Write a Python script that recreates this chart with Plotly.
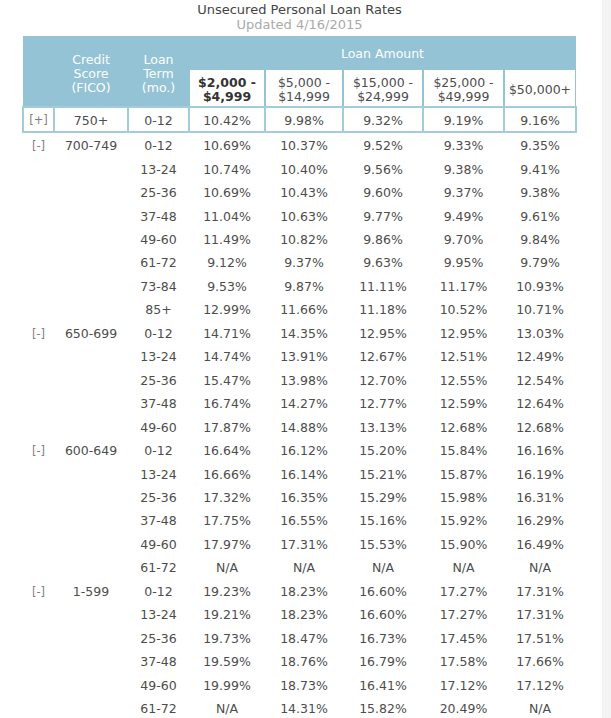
import plotly.graph_objects as go

# ---- data ----
amount_labels = [["$2,000 -", "$4,999"], ["$5,000 -", "$14,999"], ["$15,000 -", "$24,999"],
                 ["$25,000 -", "$49,999"], ["$50,000+"]]
scores = ["750+", "700-749", "650-699", "600-649", "1-599"]
terms = [
    ["0-12"],
    ["0-12", "13-24", "25-36", "37-48", "49-60", "61-72", "73-84", "85+"],
    ["0-12", "13-24", "25-36", "37-48", "49-60"],
    ["0-12", "13-24", "25-36", "37-48", "49-60", "61-72"],
    ["0-12", "13-24", "25-36", "37-48", "49-60", "61-72"],
]
rates_750 = [[10.42, 9.98, 9.32, 9.19, 9.16]]
rates_700 = [
    [10.69, 10.37, 9.52, 9.33, 9.35],
    [10.74, 10.40, 9.56, 9.38, 9.41],
    [10.69, 10.43, 9.60, 9.37, 9.38],
    [11.04, 10.63, 9.77, 9.49, 9.61],
    [11.49, 10.82, 9.86, 9.70, 9.84],
    [9.12, 9.37, 9.63, 9.95, 9.79],
    [9.53, 9.87, 11.11, 11.17, 10.93],
    [12.99, 11.66, 11.18, 10.52, 10.71],
]
rates_650 = [
    [14.71, 14.35, 12.95, 12.95, 13.03],
    [14.74, 13.91, 12.67, 12.51, 12.49],
    [15.47, 13.98, 12.70, 12.55, 12.54],
    [16.74, 14.27, 12.77, 12.59, 12.64],
    [17.87, 14.88, 13.13, 12.68, 12.68],
]
rates_600 = [
    [16.64, 16.12, 15.20, 15.84, 16.16],
    [16.66, 16.14, 15.21, 15.87, 16.19],
    [17.32, 16.35, 15.29, 15.98, 16.31],
    [17.75, 16.55, 15.16, 15.92, 16.29],
    [17.97, 17.31, 15.53, 15.90, 16.49],
    [None, None, None, None, None],
]
rates_1 = [
    [19.23, 18.23, 16.60, 17.27, 17.31],
    [19.21, 18.23, 16.60, 17.27, 17.31],
    [19.73, 18.47, 16.73, 17.45, 17.51],
    [19.59, 18.76, 16.79, 17.58, 17.66],
    [19.99, 18.73, 16.41, 17.12, 17.12],
    [None, 14.31, 15.82, 20.49, None],
]
rates = [rates_750, rates_700, rates_650, rates_600, rates_1]

# ---- layout (pixels) ----
W, H = 611, 718
edges = [23, 54, 128, 189, 265, 343, 423, 504, 576]
centers = [(a + b) / 2 for a, b in zip(edges[:-1], edges[1:])]
head_top, sub_top, head_bot, row1_bot = 36, 70, 107, 132
row_start, row_step = 145, 23.46
BLUE = "#93c3d5"
LINE_BLUE = "#a3cbda"
FONT = "DejaVu Sans"
DY = 2  # plotly sits text a little high

fig = go.Figure()


def add_text(xs, ys, texts, size=12.5, color="#4d4d4d"):
    fig.add_trace(go.Scatter(
        x=xs, y=[y + DY for y in ys], text=texts, mode="text", textposition="middle center",
        textfont=dict(family=FONT, size=size, color=color), hoverinfo="skip"))


# background pieces
fig.add_shape(type="rect", x0=602, x1=W, y0=0, y1=H, fillcolor="#f3f3f3", line_width=0, layer="below")
fig.add_shape(type="rect", x0=edges[0], x1=edges[-1], y0=head_top, y1=head_bot,
              fillcolor=BLUE, line_width=0, layer="below")
for i in range(3, 8):
    fig.add_shape(type="rect", x0=edges[i] + 1, x1=edges[i + 1] - 1, y0=sub_top, y1=head_bot,
                  fillcolor="white", line_width=0, layer="below")
fig.add_shape(type="rect", x0=edges[0], x1=edges[-1], y0=head_bot, y1=row1_bot,
              fillcolor="white", line=dict(color=LINE_BLUE, width=2), layer="below")
for e in edges[1:-1]:
    fig.add_shape(type="line", x0=e, x1=e, y0=head_bot, y1=row1_bot,
                  line=dict(color=LINE_BLUE, width=2), layer="below")

# titles
add_text([299.5], [8.5], ["Unsecured Personal Loan Rates"], size=13, color="#444444")
add_text([299.5], [23.5], ["Updated 4/16/2015"], size=13, color="#aaaaaa")

# header text
line_h = 14
add_text([(edges[3] + edges[-1]) / 2], [53], ["Loan Amount"], size=12.5, color="white")
for txt, c in [(["Credit", "Score", "(FICO)"], centers[1]), (["Loan", "Term", "(mo.)"], centers[2])]:
    add_text([c] * 3, [59 + k * line_h for k in range(3)], txt, size=12.5, color="white")
for j, lines in enumerate(amount_labels):
    c = centers[3 + j]
    mid = (sub_top + head_bot) / 2
    ys = [mid - (len(lines) - 1) * line_h / 2 + k * line_h for k in range(len(lines))]
    if j == 0:
        add_text([c] * len(lines), ys, ["<b>%s</b>" % s for s in lines], size=12.5, color="#333333")
    else:
        add_text([c] * len(lines), ys, lines, size=12.5, color="#4d4d4d")

# body text
tx, ty, tt = [], [], []
gx, gy, gt = [], [], []
r = 0
for g, score in enumerate(scores):
    for k, term in enumerate(terms[g]):
        y = (head_bot + row1_bot) / 2 if r == 0 else row_start + (r - 1) * row_step
        if k == 0:
            gx.append(centers[0]); gy.append(y); gt.append("[+]" if g == 0 else "[-]")
            tx.append(centers[1]); ty.append(y); tt.append(score)
        tx.append(centers[2]); ty.append(y); tt.append(term)
        for j, v in enumerate(rates[g][k]):
            tx.append(centers[3 + j]); ty.append(y)
            tt.append("N/A" if v is None else "%.2f%%" % v)
        r += 1
add_text(gx, gy, gt, size=11.5, color="#808080")
add_text(tx, ty, tt, size=12.5, color="#4d4d4d")

fig.update_xaxes(range=[0, W], visible=False, fixedrange=True)
fig.update_yaxes(range=[H, 0], visible=False, fixedrange=True)
fig.update_layout(width=W, height=H, margin=dict(l=0, r=0, t=0, b=0), showlegend=False,
                  plot_bgcolor="white", paper_bgcolor="white")

fig.write_html("out.html", config={"displayModeBar": False},
               post_script="document.body.style.margin='0';document.body.style.overflow='hidden';")
